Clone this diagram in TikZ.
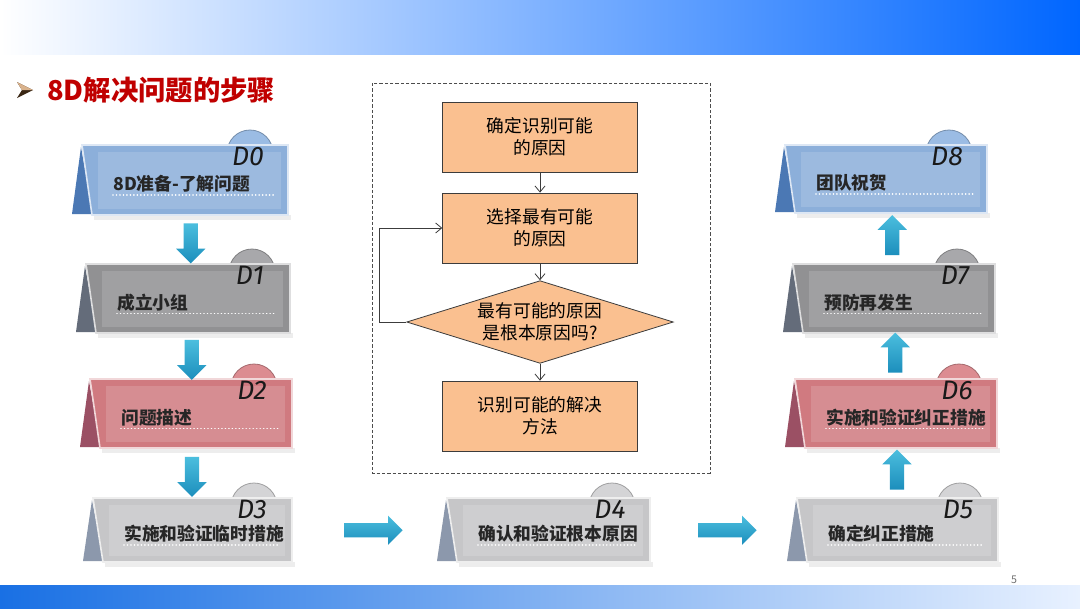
\documentclass[tikz,border=0pt]{standalone}
\usepackage{fontspec}
\setmainfont{Noto Sans CJK SC}
\newfontfamily\handfont{Fira Sans}
\usetikzlibrary{arrows.meta,shapes.geometric,shapes.arrows,calc,positioning}

\definecolor{titlered}{RGB}{192,0,0}
\definecolor{topblue}{RGB}{0,102,255}
\definecolor{midblue}{RGB}{196,220,255}
\definecolor{botblue}{RGB}{25,112,228}
\definecolor{botpale}{RGB}{232,241,255}
\definecolor{flowfill}{RGB}{250,192,144}
\definecolor{flowline}{RGB}{60,60,60}
\definecolor{arrowtop}{RGB}{75,190,222}
\definecolor{arrowbot}{RGB}{28,142,188}
% card colours: face, fold, tab
\definecolor{blueface}{RGB}{140,175,218}
\definecolor{bluefold}{RGB}{75,120,180}
\definecolor{bluetab}{RGB}{155,188,228}
\definecolor{dgrayface}{RGB}{145,145,147}
\definecolor{dgrayfold}{RGB}{100,108,122}
\definecolor{dgraytab}{RGB}{168,168,171}
\definecolor{redface}{RGB}{208,122,128}
\definecolor{redfold}{RGB}{155,80,100}
\definecolor{redtab}{RGB}{220,140,145}
\definecolor{lgrayface}{RGB}{198,198,200}
\definecolor{lgrayfold}{RGB}{140,152,172}
\definecolor{lgraytab}{RGB}{212,212,214}

\tikzset{
  cardtext/.style={font=\fontsize{13.3}{16}\selectfont\bfseries, text=black!85, inner sep=0.75pt},
  cardlabel/.style={font=\handfont\itshape\fontsize{20}{21}\selectfont, text=black!90, inner sep=0pt},
  flowbox/.style={draw=flowline, fill=flowfill, line width=0.6pt, minimum width=146pt, minimum height=52.5pt,
    align=center, font=\fontsize{13.3}{16.3}\selectfont, inner sep=2pt},
  decision/.style={diamond, draw=flowline, fill=flowfill, line width=0.6pt, shape aspect=3.2, inner sep=0pt,
    minimum width=200pt, minimum height=62pt, align=center, font=\fontsize{13.3}{16.3}\selectfont},
  flowarr/.style={draw=flowline, line width=0.6pt, -{Straight Barb[length=4.5pt,width=7.5pt]}},
  bigarrow/.style={single arrow, draw=none, top color=arrowtop, bottom color=arrowbot,
    minimum width=22pt, single arrow head extend=5.6pt, inner sep=5.2pt, minimum height=30pt},
}

% tent card: name, left, top, right, height, colour, label, text
\newcommand{\tentcard}[8]{%
  \fill[black!7] ({#2+12},{#3+#5}) rectangle ({#4+3},{#3+#5+5});
  \draw[#6tab!75!black, fill=#6tab, line width=0.6] ({#4-38},{#3+8}) circle (23);
  \fill[#6fold] ({#2-1},{#3+2}) -- ({#2-10},{#3+#5-1}) -- ({#2+11},{#3+#5-1}) -- cycle;
  \filldraw[#6face, draw=white!70!#6face, line width=1.2] (#2,#3) -- (#4,#3) -- (#4,{#3+#5}) -- ({#2+10},{#3+#5}) -- cycle;
  \fill[#6face!86!white] ({#2+16},{#3+7}) rectangle ({#4-7},{#3+#5-6});
  \node[inner sep=0, minimum width={(#4-#2)*0.75pt}, minimum height={#5*0.75pt}, anchor=north west] (#1) at (#2,#3) {};
  \node[cardlabel] (#1-lab) at ({#4-40},{#3+11}) {#7};
  \node[cardtext, anchor=west] (#1-txt) at ({#2+30},{#3+0.5*#5+4}) {#8};
  \draw[white, line width=1.3, dash pattern=on 0.01pt off 2.6pt, line cap=round] ({#2+31},{#3+0.5*#5+15}) -- ({#4-14},{#3+0.5*#5+15});
}

\begin{document}
\begin{tikzpicture}[x=0.75pt,y=0.75pt,yscale=-1,xscale=1]
\useasboundingbox (0,0) rectangle (1080,608);
\fill[white] (0,0) rectangle (1080,608);

%Top bar
\shade[left color=white, middle color=midblue, right color=topblue] (0,0) rectangle (1080,54);
%Bottom bar
\shade[left color=botblue, right color=botpale] (0,585) rectangle (1080,608);
% Text Node
\node[text=black!55, font=\fontsize{8}{9}\selectfont, inner sep=0.75pt] (pagenum) at (1014,580) {5};

%Title bullet
\fill[black!70!brown] (17,82) -- (33,90) -- (17,98) -- (22,90) -- cycle;
\fill[brown!60!white] (17,82) -- (33,90) -- (22,90) -- cycle;
% Text Node
\node[anchor=west, text=titlered, font=\fontsize{20.5}{23}\selectfont\bfseries, inner sep=0.75pt] (title) at (46,90) {8D解决问题的步骤};

%Cards, left column
\tentcard{d0}{82}{145}{288}{70}{blue}{D0}{8D准备-了解问题}
\tentcard{d1}{86}{264}{290}{69}{dgray}{D1}{成立小组}
\tentcard{d2}{90}{379}{292}{69}{red}{D2}{问题描述}
\tentcard{d3}{93}{498}{292}{64}{lgray}{D3}{实施和验证临时措施}
%Card, middle
\tentcard{d4}{447}{498}{650}{64}{lgray}{D4}{确认和验证根本原因}
%Cards, right column
\tentcard{d5}{797}{498}{998}{64}{lgray}{D5}{确定纠正措施}
\tentcard{d6}{795}{379}{997}{69}{red}{D6}{实施和验证纠正措施}
\tentcard{d7}{793}{264}{995}{69}{dgray}{D7}{预防再发生}
\tentcard{d8}{785}{145}{987}{68}{blue}{D8}{团队祝贺}

%Block arrows
\node[bigarrow, rotate=-90] (a01) at ($($(d0.south)!.5!(d1.north)$)+(4,0)$) {};
\node[bigarrow, rotate=-90] (a12) at ($($(d1.south)!.5!(d2.north)$)+(2,0)$) {};
\node[bigarrow, rotate=-90] (a23) at ($(d2.south)!.5!(d3.north)$) {};
\node[bigarrow, minimum height=44pt] (a34) at ($(d3.east)!.5!(d4.west)$) {};
\node[bigarrow, minimum height=44pt] (a45) at ($(d4.east)!.5!(d5.west)$) {};
\node[bigarrow, rotate=90] (a56) at ($(d5.north)!.5!(d6.south)$) {};
\node[bigarrow, rotate=90] (a67) at ($(d6.north)!.5!(d7.south)$) {};
\node[bigarrow, rotate=90] (a78) at ($($(d7.north)!.5!(d8.south)$)+(2,0)$) {};

%Flowchart frame
\draw[black!70, line width=0.7, dash pattern=on 2.5pt off 1.5pt] (372,83) rectangle (710,473);
% Flow nodes
\node[flowbox] (find) at (540,137) {确定识别可能\\的原因};
\node[flowbox] (pick) at (540,228) {选择最有可能\\的原因};
\node[decision] (isroot) at (540,322) {最有可能的原因\\是根本原因吗?};
\node[flowbox] (solve) at (540,416) {识别可能的解决\\方法};
% Flow connectors
\draw[flowarr] (find) -- (pick);
\draw[flowarr] (pick) -- (isroot);
\draw[flowarr] (isroot) -- (solve);
\draw[flowarr] (isroot.west) -- ++(-27,0) |- (pick.west);

\end{tikzpicture}
\end{document}
